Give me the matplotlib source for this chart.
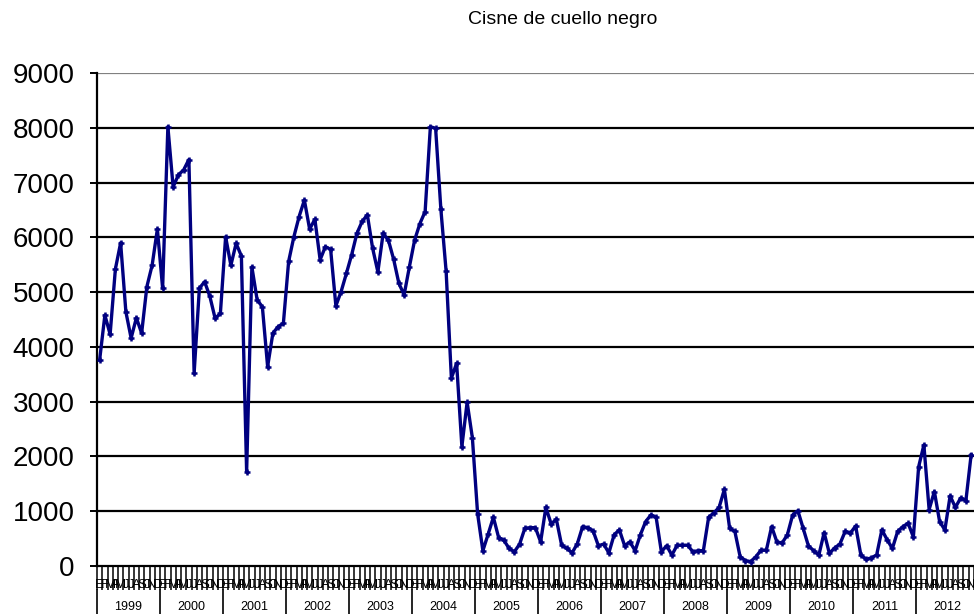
import numpy as np
import matplotlib
matplotlib.use("Agg")
import matplotlib.pyplot as plt
from matplotlib.transforms import blended_transform_factory

plt.rcParams['font.family'] = ['Liberation Sans', 'DejaVu Sans']

title = "Cisne de cuello negro"
years = [str(y) for y in range(1999, 2013)]
month_letters = ['E', 'F', 'M', 'A', 'M', 'J', 'J', 'A', 'S', 'O', 'N', 'D']

# monthly counts, one list per year (2012 ends in November)
v1999 = [3760, 4580, 4230, 5420, 5900, 4640, 4160, 4530, 4250, 5100, 5490, 6150]
v2000 = [5070, 8020, 6920, 7140, 7230, 7420, 3520, 5070, 5190, 4920, 4520, 4610]
v2001 = [6010, 5490, 5890, 5660, 1720, 5460, 4860, 4730, 3640, 4250, 4370, 4430]
v2002 = [5560, 6010, 6380, 6680, 6150, 6330, 5590, 5830, 5780, 4750, 5010, 5340]
v2003 = [5680, 6070, 6290, 6410, 5800, 5370, 6070, 5950, 5600, 5160, 4950, 5460]
v2004 = [5950, 6250, 6470, 8020, 7990, 6510, 5380, 3430, 3700, 2180, 2990, 2340]
v2005 = [950, 280, 580, 890, 520, 470, 320, 260, 400, 690, 700, 700]
v2006 = [440, 1070, 770, 850, 380, 320, 240, 410, 720, 700, 640, 370]
v2007 = [400, 240, 570, 660, 370, 440, 280, 570, 810, 930, 890, 260]
v2008 = [370, 200, 380, 380, 380, 260, 280, 280, 890, 970, 1070, 1400]
v2009 = [690, 630, 170, 100, 80, 170, 290, 290, 720, 440, 420, 570]
v2010 = [930, 1010, 690, 370, 280, 200, 610, 230, 330, 400, 630, 600]
v2011 = [730, 200, 120, 150, 200, 660, 480, 320, 630, 720, 780, 530]
v2012 = [1810, 2210, 1030, 1360, 810, 660, 1280, 1070, 1240, 1190, 2030]

values = (v1999 + v2000 + v2001 + v2002 + v2003 + v2004 + v2005 + v2006
          + v2007 + v2008 + v2009 + v2010 + v2011 + v2012)
n_months = 12 * len(years)

W, H = 974, 614
fig = plt.figure(figsize=(W / 100, H / 100), dpi=100)
# plot area runs past the right edge, as in the cropped original
ax = fig.add_axes([97 / W, (H - 566) / H, (979 - 97) / W, (566 - 73) / H])

x = np.arange(len(values)) + 0.5
ax.plot(x, values, color='#000080', lw=2.4, marker='+', ms=5, mew=1.8, zorder=3)

ax.set_xlim(0, n_months)
ax.set_ylim(0, 9000)
ax.set_yticks(range(0, 9001, 1000))
for yv in range(1000, 9001, 1000):
    ax.axhline(yv, color='#000000' if yv < 9000 else '#808080', lw=1.6, zorder=1)

for s in ['top', 'right']:
    ax.spines[s].set_visible(False)
ax.spines['left'].set_linewidth(1.6)
ax.spines['bottom'].set_linewidth(1.6)
ax.tick_params(axis='y', length=5, width=1.4, pad=11, labelsize=20)

# month boundaries as long ticks, letters between them
ax.set_xticks(np.arange(0, n_months + 1))
ax.set_xticklabels([])
ax.set_xticks(np.arange(n_months) + 0.5, minor=True)
ax.set_xticklabels(month_letters * len(years), minor=True, fontsize=9.5)
ax.tick_params(axis='x', which='major', length=17, width=1.1, direction='out')
ax.tick_params(axis='x', which='minor', length=0, pad=9)

trans = blended_transform_factory(ax.transData, fig.transFigure)
for i, yr in enumerate(years):
    ax.text(12 * i + 6, 7 / H, yr, transform=trans, ha='center', va='center',
            fontsize=9, clip_on=False)
    ax.plot([12 * i, 12 * i], [0, 24 / H], transform=trans, color='black',
            lw=1.2, clip_on=False)

fig.text(563 / W, 1 - 20 / H, title, ha='center', va='center', fontsize=14)

fig.savefig("out.png", dpi=100)
